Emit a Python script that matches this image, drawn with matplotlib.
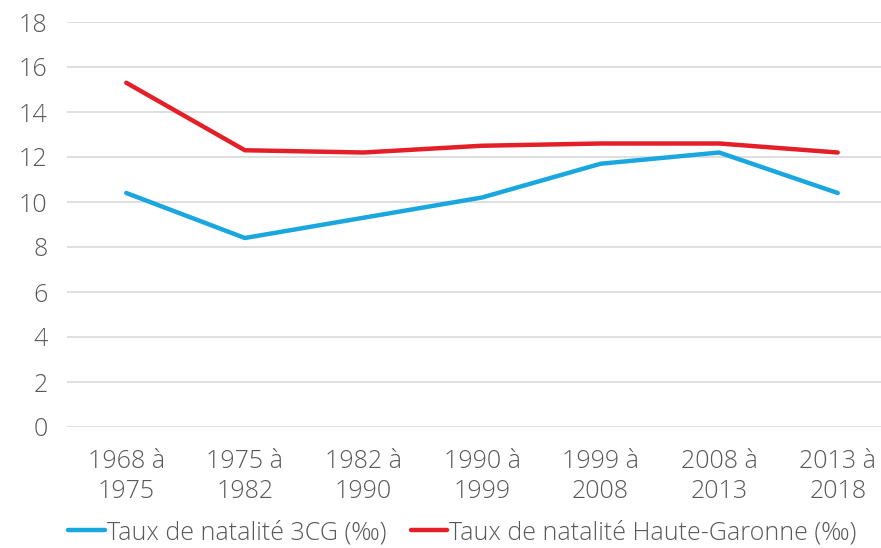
import matplotlib
matplotlib.use("Agg")
import matplotlib.pyplot as plt

categories = ["1968 à\n1975", "1975 à\n1982", "1982 à\n1990", "1990 à\n1999",
              "1999 à\n2008", "2008 à\n2013", "2013 à\n2018"]
natalite_3cg = [10.4, 8.4, 9.3, 10.2, 11.7, 12.2, 10.4]
natalite_hg = [15.3, 12.3, 12.2, 12.5, 12.6, 12.6, 12.2]
series_labels = ["Taux de natalité 3CG (‰)", "Taux de natalité Haute-Garonne (‰)"]
yticks = [0, 2, 4, 6, 8, 10, 12, 14, 16, 18]

plt.rcParams['font.family'] = ['Open Sans', 'DejaVu Sans']
plt.rcParams['font.weight'] = 'light'
text_color = "#595959"

fig = plt.figure(figsize=(8.81, 5.48), dpi=100)
W, H = 881, 548
left, right = 67, 897
top, bottom = 22, 427
ax = fig.add_axes([left / W, 1 - bottom / H, (right - left) / W, (bottom - top) / H])

x = range(len(categories))
ax.plot(x, natalite_3cg, color="#1AA6DE", lw=3.2, solid_capstyle="round", solid_joinstyle="round",
        label=series_labels[0])
ax.plot(x, natalite_hg, color="#E41F27", lw=3.2, solid_capstyle="round", solid_joinstyle="round",
        label=series_labels[1])

ax.set_xlim(-0.5, len(categories) - 0.5)
ax.set_ylim(0, 18)
ax.set_yticks(yticks)
ax.set_yticklabels([str(v) for v in yticks])
ax.set_xticks(list(x))
ax.set_xticklabels(categories, linespacing=1.25)
ax.yaxis.grid(True, color="#D9D9D9", lw=1.2)
ax.set_axisbelow(True)
for s in ax.spines.values():
    s.set_visible(False)
ax.tick_params(axis="both", length=0, colors=text_color, labelsize=18)
ax.tick_params(axis="y", pad=14)
ax.tick_params(axis="x", pad=16)

leg = fig.legend(loc="lower center", bbox_to_anchor=(0.525, -0.036), ncol=2, frameon=False,
                 fontsize=18, handlelength=1.45, handletextpad=0.08, columnspacing=1.0,
                 labelcolor=text_color)

fig.savefig("out.png", dpi=100)
